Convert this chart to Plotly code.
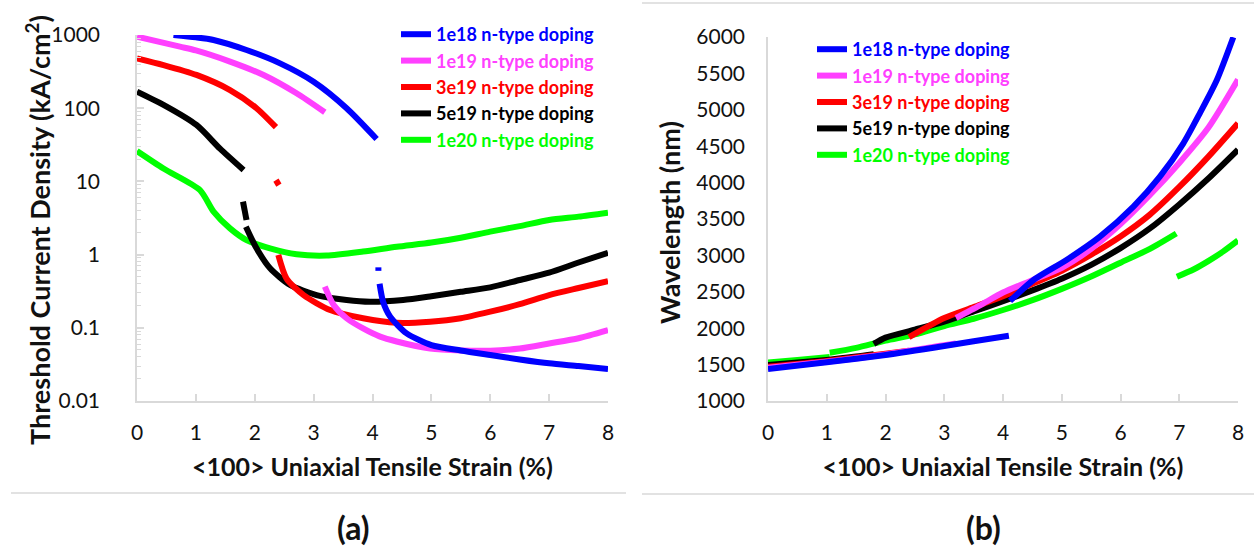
import plotly.graph_objects as go

# ---------------- data: panel (a) threshold current density (kA/cm^2) ----------------
strain_ticks = [0, 1, 2, 3, 4, 5, 6, 7, 8]
jth_tickvals = [0.01, 0.1, 1, 10, 100, 1000]
jth_ticktext = ["0.01", "0.1", "1", "10", "100", "1000"]
wl_tickvals = [1000, 1500, 2000, 2500, 3000, 3500, 4000, 4500, 5000, 5500, 6000]

names = ["1e18 n-type doping", "1e19 n-type doping", "3e19 n-type doping",
         "5e19 n-type doping", "1e20 n-type doping"]
colors = ["#0000FF", "#FF40FF", "#FF0000", "#000000", "#00FF00"]

# 1e18
a1e18_x1 = [0.62, 1.0, 1.3, 1.86, 2.43, 3.0, 3.56, 4.07]
a1e18_y1 = [1000, 930, 855, 624, 410, 230, 100, 38]
a1e18_x2 = [4.10, 4.10]
a1e18_y2 = [0.67, 0.60]
a1e18_x3 = [4.12, 4.18, 4.30, 4.58, 5.0, 5.5, 6.0, 6.5, 7.0, 7.5, 8.0]
a1e18_y3 = [0.40, 0.227, 0.142, 0.084, 0.058, 0.049, 0.0425, 0.037, 0.0327, 0.030, 0.0274]
# 1e19
a1e19_x1 = [0, 0.73, 1.0, 1.58, 2.15, 2.71, 3.19]
a1e19_y1 = [950, 692, 615, 433, 284, 160, 88]
a1e19_x2 = [3.19, 3.34, 3.56, 3.84, 4.13, 4.41, 4.98, 5.5, 6.0, 6.5, 7.0, 7.5, 8.0]
a1e19_y2 = [0.365, 0.205, 0.135, 0.098, 0.0757, 0.065, 0.052, 0.049, 0.0486, 0.052, 0.061, 0.072, 0.093]
# 3e19
a3e19_x1 = [0, 0.45, 1.01, 1.58, 2.03, 2.36]
a3e19_y1 = [480, 389, 285, 177, 100, 55]
a3e19_x2 = [2.36, 2.41]
a3e19_y2 = [10.4, 8.9]
a3e19_x3 = [2.40, 2.54, 2.83, 3.28, 3.84, 4.41, 4.98, 5.5, 6.0, 6.5, 7.0, 7.5, 8.0]
a3e19_y3 = [0.99, 0.47, 0.28, 0.175, 0.135, 0.117, 0.121, 0.135, 0.166, 0.21, 0.28, 0.35, 0.435]
# 5e19
a5e19_x1 = [0, 0.45, 1.01, 1.41, 1.81]
a5e19_y1 = [168, 111, 59, 28, 14.3]
a5e19_x2 = [1.80, 1.86]
a5e19_y2 = [5.3, 2.97]
a5e19_x3 = [1.85, 2.03, 2.26, 2.6, 3.05, 3.56, 3.96, 4.52, 5.0, 5.5, 6.0, 6.5, 7.0, 7.5, 8.0]
a5e19_y3 = [2.41, 1.22, 0.65, 0.385, 0.28, 0.24, 0.227, 0.24, 0.27, 0.31, 0.357, 0.45, 0.566, 0.78, 1.06]
# 1e20
a1e20_x1 = [0, 0.45, 1.07, 1.30, 1.58, 1.86, 2.26, 2.71, 3.22, 3.84, 4.41, 5.0, 5.5, 6.0, 6.5, 7.0, 7.5, 8.0]
a1e20_y1 = [26, 15, 7.6, 3.86, 2.28, 1.58, 1.22, 1.01, 0.97, 1.1, 1.28, 1.46, 1.7, 2.06, 2.45, 2.97, 3.3, 3.74]

# ---------------- data: panel (b) wavelength (nm) ----------------
b1e18_x1 = [0, 1.0, 2.0, 3.0, 3.5, 4.1]
b1e18_y1 = [1440, 1531, 1632, 1755, 1820, 1897]
b1e18_x2 = [4.12, 4.52, 5.08, 5.65, 6.22, 6.67, 7.07, 7.35, 7.64, 7.92]
b1e18_y2 = [2375, 2662, 2937, 3257, 3669, 4081, 4540, 4952, 5409, 5996]
b1e19_x1 = [0, 1.0, 2.0, 3.0, 3.2]
b1e19_y1 = [1455, 1540, 1640, 1765, 1790]
b1e19_x2 = [3.2, 3.6, 4.0, 4.5, 5.0, 5.5, 6.0, 6.5, 7.0, 7.5, 8.0]
b1e19_y2 = [2140, 2310, 2490, 2660, 2830, 3090, 3430, 3830, 4270, 4760, 5415]
b3e19_x1 = [0, 1.0, 2.0, 2.4]
b3e19_y1 = [1471, 1550, 1650, 1690]
b3e19_x2 = [2.4, 3.0, 3.5, 4.0, 4.5, 5.0, 5.5, 6.0, 6.5, 7.0, 7.5, 8.0]
b3e19_y2 = [1877, 2140, 2290, 2440, 2610, 2790, 3010, 3260, 3560, 3940, 4360, 4814]
b5e19_x1 = [0, 0.5, 1.0, 1.5, 1.8]
b5e19_y1 = [1494, 1530, 1565, 1610, 1641]
b5e19_x2 = [1.8, 2.0, 2.5, 3.0, 3.5, 4.0, 4.5, 5.0, 5.5, 6.0, 6.5, 7.0, 7.5, 8.0]
b5e19_y2 = [1785, 1870, 1980, 2090, 2230, 2370, 2520, 2680, 2870, 3100, 3370, 3700, 4060, 4452]
b1e20_x1 = [0, 0.5, 1.05]
b1e20_y1 = [1530, 1565, 1605]
b1e20_x2 = [1.05, 1.5, 2.0, 2.5, 3.0, 3.5, 4.0, 4.5, 5.0, 5.5, 6.0, 6.5, 6.95]
b1e20_y2 = [1662, 1730, 1830, 1915, 2030, 2130, 2250, 2385, 2540, 2710, 2900, 3090, 3301]
b1e20_x3 = [6.96, 7.25, 7.5, 7.75, 8.0]
b1e20_y3 = [2707, 2810, 2925, 3055, 3205]


def join(*segs):
    xs, ys = [], []
    for i in range(0, len(segs), 2):
        if xs:
            xs.append(None)
            ys.append(None)
        xs += list(segs[i])
        ys += list(segs[i + 1])
    return xs, ys


panel_a = [
    join(a1e18_x1, a1e18_y1, a1e18_x2, a1e18_y2, a1e18_x3, a1e18_y3),
    join(a1e19_x1, a1e19_y1, a1e19_x2, a1e19_y2),
    join(a3e19_x1, a3e19_y1, a3e19_x2, a3e19_y2, a3e19_x3, a3e19_y3),
    join(a5e19_x1, a5e19_y1, a5e19_x2, a5e19_y2, a5e19_x3, a5e19_y3),
    join(a1e20_x1, a1e20_y1),
]
panel_b = [
    join(b1e18_x1, b1e18_y1, b1e18_x2, b1e18_y2),
    join(b1e19_x1, b1e19_y1, b1e19_x2, b1e19_y2),
    join(b3e19_x1, b3e19_y1, b3e19_x2, b3e19_y2),
    join(b5e19_x1, b5e19_y1, b5e19_x2, b5e19_y2),
    join(b1e20_x1, b1e20_y1, b1e20_x2, b1e20_y2, b1e20_x3, b1e20_y3),
]

FONT = "Lato"
GRAY = "#D9D9D9"
INK = "#111111"
W, H = 1254, 548

fig = go.Figure()
# draw order: green at bottom, blue on top
for i in reversed(range(5)):
    for (xs, ys), xa, ya, lg in ((panel_a[i], "x", "y", "legend"), (panel_b[i], "x2", "y2", "legend2")):
        fig.add_trace(go.Scatter(
            x=xs, y=ys, xaxis=xa, yaxis=ya, mode="lines",
            line=dict(color=colors[i], width=6, shape="spline", smoothing=0.7),
            connectgaps=False, legend=lg,
            name=f"<span style='color:{colors[i]}'><b>{names[i]}</b></span>",
            hoverinfo="skip",
        ))

axis_common = dict(showgrid=False, zeroline=False, showline=True, linecolor=GRAY, linewidth=1.5,
                   tickfont=dict(family=FONT, size=21, color=INK), automargin=False)


def px_x(p):
    return p / W


def px_y(p):
    return 1 - p / H


xtitle_font = dict(family=FONT, size=25, color=INK)

fig.update_layout(
    width=W, height=H, margin=dict(l=0, r=0, t=0, b=0, autoexpand=False),
    paper_bgcolor="white", plot_bgcolor="white",
    font=dict(family=FONT, color=INK),
    xaxis=dict(domain=[px_x(137), px_x(608)], range=[0, 8], tickvals=strain_ticks,
               ticks="inside", ticklen=7, tickcolor=GRAY, tickwidth=1.5, ticklabelstandoff=12,
               title=dict(text="<b><100> Uniaxial Tensile Strain (%)</b>", font=xtitle_font, standoff=16),
               anchor="y", **axis_common),
    yaxis=dict(domain=[px_y(401), px_y(35)], type="log", range=[-2, 3],
               tickmode="array", tickvals=jth_tickvals, ticktext=jth_ticktext,
               ticks="inside", ticklen=7, tickcolor=GRAY, tickwidth=1.5, ticklabelstandoff=31,
               minor=dict(ticks="inside", ticklen=4, tickcolor=GRAY, tickwidth=1, dtick="D1", showgrid=False),
               anchor="x", **axis_common),
    xaxis2=dict(domain=[px_x(768), px_x(1238)], range=[0, 8], tickvals=strain_ticks,
                ticks="inside", ticklen=7, tickcolor=GRAY, tickwidth=1.5, ticklabelstandoff=12,
                title=dict(text="<b><100> Uniaxial Tensile Strain (%)</b>", font=xtitle_font, standoff=16),
                anchor="y2", **axis_common),
    yaxis2=dict(domain=[px_y(401), px_y(37)], range=[1000, 6000], tickmode="array", tickvals=wl_tickvals,
                ticks="", ticklabelstandoff=17,
                anchor="x2", **axis_common),
    legend=dict(x=px_x(396), y=px_y(16), xanchor="left", yanchor="top", traceorder="reversed",
                bgcolor="rgba(0,0,0,0)", font=dict(family=FONT, size=18), itemwidth=30,
                itemclick=False),
    legend2=dict(x=px_x(812), y=px_y(31), xanchor="left", yanchor="top", traceorder="reversed",
                 bgcolor="rgba(0,0,0,0)", font=dict(family=FONT, size=18), itemwidth=30,
                 itemclick=False),
    annotations=[
        dict(text="<b>Threshold Current Density (kA/cm<sup>2</sup>)</b>", x=px_x(38), y=px_y(230),
             xref="paper", yref="paper", textangle=-90, showarrow=False,
             font=dict(family=FONT, size=27, color=INK), xanchor="center", yanchor="middle"),
        dict(text="<b>Wavelength (nm)</b>", x=px_x(669), y=px_y(222),
             xref="paper", yref="paper", textangle=-90, showarrow=False,
             font=dict(family=FONT, size=27, color=INK), xanchor="center", yanchor="middle"),
        dict(text="<b>(a)</b>", x=px_x(353), y=px_y(527), xref="paper", yref="paper",
             showarrow=False, font=dict(family=FONT, size=32, color=INK), xanchor="center", yanchor="middle"),
        dict(text="<b>(b)</b>", x=px_x(983), y=px_y(527), xref="paper", yref="paper",
             showarrow=False, font=dict(family=FONT, size=32, color=INK), xanchor="center", yanchor="middle"),
    ],
    shapes=[
        dict(type="line", xref="paper", yref="paper", x0=px_x(11), x1=px_x(626), y0=px_y(493), y1=px_y(493),
             line=dict(color=GRAY, width=1.5)),
        dict(type="line", xref="paper", yref="paper", x0=px_x(642), x1=1, y0=px_y(494), y1=px_y(494),
             line=dict(color=GRAY, width=1.5)),
        dict(type="line", xref="paper", yref="paper", x0=px_x(642), x1=1, y0=px_y(3), y1=px_y(3),
             line=dict(color=GRAY, width=1.5)),
    ],
)

fig.write_html("out.html", config={"displayModeBar": False},
               post_script="document.body.style.margin='0';document.body.style.overflow='hidden';")
